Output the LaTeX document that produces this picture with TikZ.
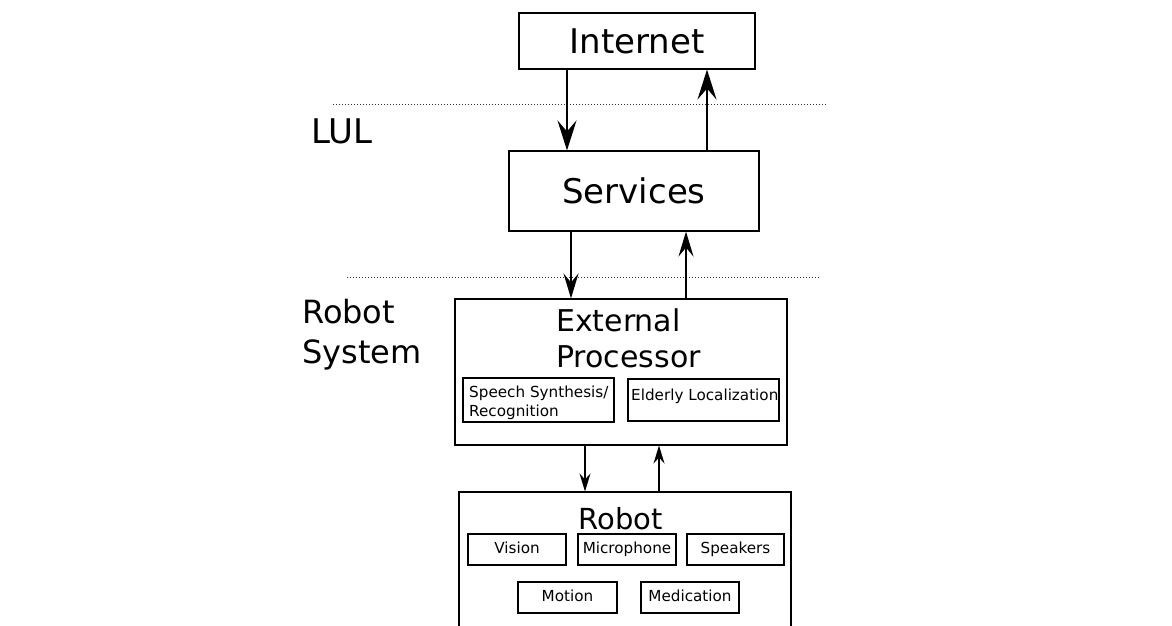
\documentclass[tikz,border=0pt]{standalone}
\usepackage{fontspec}
\setmainfont{DejaVu Sans}
\usetikzlibrary{arrows.meta}
\begin{document}
\begin{tikzpicture}[x=1pt,y=-1pt,
  box/.style={draw,line width=1.1pt,inner sep=0pt},
  big/.style={font=\fontsize{34}{40}\selectfont},
  mid/.style={font=\fontsize{30}{36}\selectfont},
  small/.style={font=\fontsize{15.2}{19}\selectfont},
  part/.style={box,small,text height=11pt,text depth=4pt,minimum height=31pt},
  sep/.style={line width=0.9pt,dash pattern=on 0.9pt off 2.1pt,black!80},
  arrA/.style={line width=2pt,-{Stealth[length=30pt,width=19pt,inset=11pt]}},
  arrB/.style={line width=1.5pt,-{Stealth[length=25pt,width=15pt,inset=9pt]}},
  arrC/.style={line width=1.1pt,-{Stealth[length=18pt,width=11pt,inset=6pt]}}]
\clip (0,0) rectangle (1172,626);
% boxes
\node[box,big,minimum width=236pt,minimum height=56pt] (inet) at (637,41) {Internet};
\node[box,big,minimum width=250pt,minimum height=80pt] (serv) at (634,191) {Services};
\node[box,minimum width=332pt,minimum height=146pt] (ext) at (621,372) {};
\node[mid,anchor=base west,inner sep=0pt] (extT1) at (556,331) {External};
\node[mid,anchor=base west,inner sep=0pt] (extT2) at (556,367) {Processor};
\node[box,minimum width=151pt,minimum height=44pt] (speech) at (538.5,400) {};
\node[small,anchor=base west,inner sep=0pt,align=left] (speechT) at (469,416) {Speech Synthesis/\\Recognition};
\node[box,minimum width=151pt,minimum height=42pt] (eld) at (703.5,400) {};
\node[small,anchor=base west,inner sep=0pt] (eldT) at (631,400) {Elderly Localization};
\node[box,minimum width=332pt,minimum height=150pt] (rob) at (625,567) {};
\node[font=\fontsize{29}{34}\selectfont,anchor=base,inner sep=0pt] (robT) at (620.5,529) {Robot};
\node[part,minimum width=98pt] (vis) at (517,549.5) {Vision};
\node[part,minimum width=98pt] (mic) at (627,549.5) {Microphone};
\node[part,minimum width=97pt] (spk) at (735.5,549.5) {Speakers};
\node[part,minimum width=99pt] (mot) at (567.5,597.5) {Motion};
\node[part,minimum width=98pt] (med) at (690,597.5) {Medication};
% side labels
\node[big,anchor=base west,inner sep=0pt] (lul) at (311,143) {LUL};
\node[font=\fontsize{32}{40}\selectfont,anchor=base west,inner sep=0pt] (rs1) at (302,323) {Robot};
\node[font=\fontsize{32}{40}\selectfont,anchor=base west,inner sep=0pt] (rs2) at (302,363) {System};
% separators
\coordinate (s1a) at (333,104); \coordinate (s1b) at (826,104);
\coordinate (s2a) at (347,277); \coordinate (s2b) at (819,277);
\draw[sep] (s1a) -- (s1b);
\draw[sep] (s2a) -- (s2b);
% arrow columns
\coordinate (c1) at (567,0); \coordinate (c2) at (707,0);
\coordinate (c3) at (571,0); \coordinate (c4) at (686,0);
\coordinate (c5) at (585,0); \coordinate (c6) at (659,0);
\draw[arrA] (inet.south -| c1) -- (serv.north -| c1);
\draw[arrA] (serv.north -| c2) -- (inet.south -| c2);
\draw[arrB] (serv.south -| c3) -- (ext.north -| c3);
\draw[arrB] (ext.north -| c4) -- (serv.south -| c4);
\draw[arrC] (ext.south -| c5) -- (rob.north -| c5);
\draw[arrC] (rob.north -| c6) -- (ext.south -| c6);
\end{tikzpicture}
\end{document}
